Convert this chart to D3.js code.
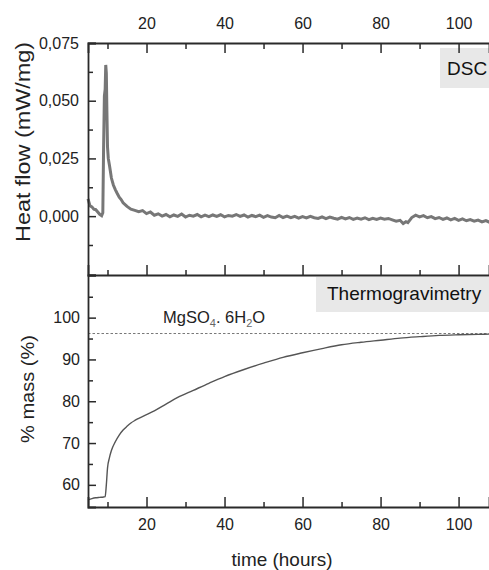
<!DOCTYPE html>
<html>
<head>
<meta charset="utf-8">
<script src="https://cdn.jsdelivr.net/npm/d3@7"></script>
<style>
  html, body { margin: 0; padding: 0; background: #fff; }
  svg { display: block; font-family: "Liberation Sans", Arial, sans-serif; }
</style>
</head>
<body>
<svg id="chart" width="489" height="570"></svg>
<script>
// ---------------- data ----------------
const xMajorTicks = [20, 40, 60, 80, 100];
const xMinorTicks = [10, 30, 50, 70, 90];
const dscMajorTicks = [0, 0.025, 0.05, 0.075];
const dscMinorTicks = [-0.0125, 0.0125, 0.0375, 0.0625];
const tgMajorTicks = [60, 70, 80, 90, 100];
const tgMinorTicks = [65, 75, 85, 95, 105];

const dscTime = [5, 5.5, 6, 6.5, 7, 7.5, 8, 8.5, 8.8, 9.0, 9.2, 9.4, 9.55, 9.7, 9.85, 10.0, 10.2, 10.5, 11, 11.5,
  12, 12.5, 13, 13.5, 14, 15, 16, 17, 18, 19, 20,
  21, 22, 23, 24, 25, 26, 27, 28, 29, 30, 31, 32, 33, 34, 35, 36, 37, 38, 39, 40,
  41, 42, 43, 44, 45, 46, 47, 48, 49, 50, 51, 52, 53, 54, 55, 56, 57, 58, 59, 60,
  61, 62, 63, 64, 65, 66, 67, 68, 69, 70, 71, 72, 73, 74, 75, 76, 77, 78, 79, 80,
  81, 82, 83, 84, 85, 85.8, 86.5, 87, 88, 89, 90, 91, 92, 93, 94, 95, 96, 97, 98, 99, 100,
  101, 102, 103, 104, 105, 106, 107, 108];
const dscHeat = [0.0075, 0.0045, 0.0040, 0.0030, 0.0028, 0.0018, 0.0008, 0.0002, 0.0015, 0.030, 0.052, 0.055, 0.0655, 0.062, 0.045, 0.030, 0.025, 0.022, 0.0165, 0.0135,
  0.0115, 0.0098, 0.0082, 0.0072, 0.0058, 0.0042, 0.0030, 0.0025, 0.0019, 0.0024, 0.0011,
  0.0018, 0.0004, 0.0010, 0.0000, 0.0007, -0.0003, 0.0005, -0.0001, 0.0009, -0.0004, 0.0004, 0.0000, 0.0007, -0.0003, 0.0004, -0.0002, 0.0005, -0.0001, 0.0006, -0.0003,
  0.0003, 0.0000, 0.0007, -0.0001, 0.0005, -0.0004, 0.0003, -0.0002, 0.0004, -0.0005, 0.0002, -0.0004, -0.0007, 0.0003, -0.0006, 0.0000, -0.0007, -0.0001, -0.0009, -0.0002,
  -0.0008, -0.0001, -0.0007, -0.0010, -0.0003, -0.0011, -0.0004, -0.0009, -0.0013, -0.0005, -0.0012, -0.0006, -0.0014, -0.0008, -0.0013, -0.0007, -0.0015, -0.0009, -0.0014, -0.0008,
  -0.0013, -0.0010, -0.0016, -0.0022, -0.0018, -0.0032, -0.0024, -0.0028, -0.0006, 0.0004, -0.0003, 0.0002, -0.0007, -0.0002, -0.0011, -0.0006, -0.0014, -0.0008, -0.0016, -0.0010, -0.0018,
  -0.0012, -0.0020, -0.0015, -0.0022, -0.0017, -0.0025, -0.0019, -0.0027];

const tgTime = [5, 6, 7, 8, 9, 9.4, 9.7, 10.0, 10.5, 11, 12, 13, 14, 15, 16, 17, 18, 20, 22, 25, 28, 32, 36, 40,
  45, 50, 55, 60, 65, 70, 75, 80, 85, 90, 95, 100, 105, 108];
const tgMass = [56.4, 56.7, 56.9, 57.0, 57.1, 57.2, 60.0, 64.0, 66.5, 68.2, 70.3, 71.9, 73.1, 74.0, 74.8, 75.4, 75.9, 76.8, 77.7, 79.3, 80.9, 82.6, 84.3, 85.9,
  87.6, 89.1, 90.5, 91.6, 92.6, 93.5, 94.1, 94.6, 95.1, 95.45, 95.75, 95.9, 96.0, 96.05];

const hydrateLevel = [96.2];

// ---------------- layout ----------------
const plotLeft = 88, plotRight = 489, plotTop = 43, plotMid = 275, plotBottom = 507;
const svg = d3.select("#chart");
const axisColor = "#2a2a2a";

const x = d3.scaleLinear().domain([5, 107.8]).range([plotLeft, plotRight]);
const yD = d3.scaleLinear().domain([-0.0255, 0.075]).range([plotMid, plotTop]);
const yT = d3.scaleLinear().domain([54.7, 110.2]).range([plotBottom, plotMid]);

function styleAxis(g) {
  g.selectAll("path.domain").attr("stroke", axisColor).attr("stroke-width", 1.8);
  g.selectAll(".tick line").attr("stroke", axisColor).attr("stroke-width", 1.5);
  g.selectAll(".tick text").attr("fill", "#222").attr("font-size", 16)
    .attr("font-family", "'Liberation Sans', Arial, sans-serif");
}

// label boxes
svg.append("rect").attr("x", 440).attr("y", 48).attr("width", 60).attr("height", 40).attr("fill", "#e8e8e8");
svg.append("text").attr("x", 447).attr("y", 75).attr("font-size", 19).attr("fill", "#111").text("DSC");
svg.append("rect").attr("x", 316).attr("y", 277).attr("width", 180).attr("height", 35).attr("fill", "#e8e8e8");
svg.append("text").attr("x", 327).attr("y", 300).attr("font-size", 19).attr("fill", "#111").text("Thermogravimetry");

// hydrate reference line
svg.append("line")
  .attr("x1", plotLeft).attr("x2", plotRight)
  .attr("y1", yT(hydrateLevel[0])).attr("y2", yT(hydrateLevel[0]))
  .attr("stroke", "#777").attr("stroke-width", 1).attr("stroke-dasharray", "2.5,2");

const hl = svg.append("text").attr("x", 163).attr("y", 323).attr("font-size", 16.5).attr("fill", "#222");
hl.append("tspan").text("MgSO");
hl.append("tspan").attr("font-size", 11).attr("dy", 4).attr("fill", "#666").text("4");
hl.append("tspan").attr("dy", -4).text(". 6H");
hl.append("tspan").attr("font-size", 11).attr("dy", 4).attr("fill", "#666").text("2");
hl.append("tspan").attr("dy", -4).text("O");

// data lines
const dscData = dscTime.map((t, i) => [t, dscHeat[i]]);
svg.append("path").datum(dscData)
  .attr("fill", "none").attr("stroke", "#777").attr("stroke-width", 3).attr("stroke-linejoin", "miter")
  .attr("d", d3.line().x(d => x(d[0])).y(d => yD(d[1])));

const tgData = tgTime.map((t, i) => [t, tgMass[i]]);
svg.append("path").datum(tgData)
  .attr("fill", "none").attr("stroke", "#555").attr("stroke-width", 1.4)
  .attr("d", d3.line().x(d => x(d[0])).y(d => yT(d[1])).curve(d3.curveMonotoneX));

// ---------------- axes ----------------
const gTop = svg.append("g").attr("transform", `translate(0,${plotTop})`)
  .call(d3.axisTop(x).tickValues(xMajorTicks).tickSize(-10).tickPadding(14).tickFormat(d3.format("d")));
styleAxis(gTop);
const gTopMinor = svg.append("g").attr("transform", `translate(0,${plotTop})`)
  .call(d3.axisTop(x).tickValues(xMinorTicks).tickSize(-6).tickFormat(""));
gTopMinor.select("path.domain").remove();
styleAxis(gTopMinor);

const gMid = svg.append("g").attr("transform", `translate(0,${plotMid})`)
  .call(d3.axisBottom(x).tickValues(xMajorTicks).tickSize(-10).tickFormat(""));
styleAxis(gMid);
const gMidMinor = svg.append("g").attr("transform", `translate(0,${plotMid})`)
  .call(d3.axisBottom(x).tickValues(xMinorTicks).tickSize(-5).tickFormat(""));
gMidMinor.select("path.domain").remove();
styleAxis(gMidMinor);

const gBot = svg.append("g").attr("transform", `translate(0,${plotBottom})`)
  .call(d3.axisBottom(x).tickValues(xMajorTicks).tickSize(-10).tickPadding(12).tickFormat(d3.format("d")));
gBot.selectAll(".tick text").attr("y", 12);
styleAxis(gBot);
const gBotMinor = svg.append("g").attr("transform", `translate(0,${plotBottom})`)
  .call(d3.axisBottom(x).tickValues(xMinorTicks).tickSize(-5).tickFormat(""));
gBotMinor.select("path.domain").remove();
styleAxis(gBotMinor);

const commaFmt = v => d3.format(".3f")(v).replace(".", ",");
const gDL = svg.append("g").attr("transform", `translate(${plotLeft},0)`)
  .call(d3.axisLeft(yD).tickValues(dscMajorTicks).tickSize(-8).tickPadding(9).tickFormat(commaFmt));
styleAxis(gDL);
const gDLMinor = svg.append("g").attr("transform", `translate(${plotLeft},0)`)
  .call(d3.axisLeft(yD).tickValues(dscMinorTicks).tickSize(-5).tickFormat(""));
gDLMinor.select("path.domain").remove();
styleAxis(gDLMinor);

const gTL = svg.append("g").attr("transform", `translate(${plotLeft},0)`)
  .call(d3.axisLeft(yT).tickValues(tgMajorTicks).tickSize(-8).tickPadding(8).tickFormat(d3.format("d")));
styleAxis(gTL);
const gTLMinor = svg.append("g").attr("transform", `translate(${plotLeft},0)`)
  .call(d3.axisLeft(yT).tickValues(tgMinorTicks).tickSize(-5).tickFormat(""));
gTLMinor.select("path.domain").remove();
styleAxis(gTLMinor);

// ---------------- titles ----------------
svg.append("text")
  .attr("transform", "translate(30,142) rotate(-90)")
  .attr("text-anchor", "middle").attr("font-size", 19.5).attr("fill", "#222")
  .attr("textLength", 200).attr("lengthAdjust", "spacingAndGlyphs")
  .text("Heat flow (mW/mg)");
svg.append("text")
  .attr("transform", "translate(34,389) rotate(-90)")
  .attr("text-anchor", "middle").attr("font-size", 19).attr("fill", "#222")
  .attr("textLength", 108).attr("lengthAdjust", "spacingAndGlyphs")
  .text("% mass (%)");
svg.append("text")
  .attr("x", 282).attr("y", 566)
  .attr("text-anchor", "middle").attr("font-size", 19).attr("fill", "#222")
  .attr("textLength", 101).attr("lengthAdjust", "spacingAndGlyphs")
  .text("time (hours)");
</script>
</body>
</html>
